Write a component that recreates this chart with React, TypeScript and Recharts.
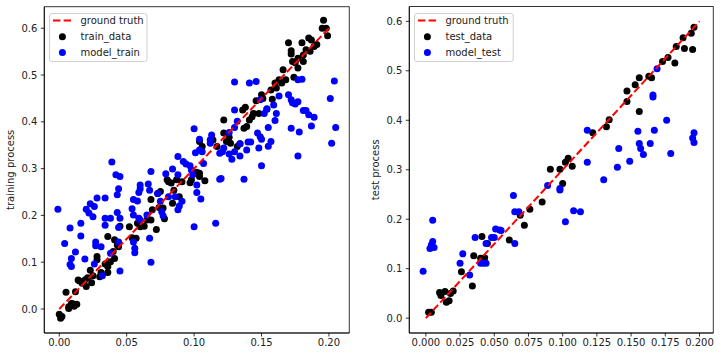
import { ScatterChart, Scatter, XAxis, YAxis, Legend, ReferenceArea } from 'recharts';

// tick labels
const trainXTicks = [0, 0.05, 0.1, 0.15, 0.2];
const testXTicks = [0, 0.025, 0.05, 0.075, 0.1, 0.125, 0.15, 0.175, 0.2];
const yTicks = [0, 0.1, 0.2, 0.3, 0.4, 0.5, 0.6];

// ground truth line end points (x, y)
const groundTruth: [number, number][] = [[0, 0], [0.2, 0.6]];

// left panel, training set
const trainData: [number, number][] = [
  [0.0, -0.011], [0.001, -0.02], [0.002, -0.016], [0.005, 0.036], [0.007, 0.005], [0.007, 0.001],
  [0.009, 0.012], [0.01, 0.011], [0.011, 0.006], [0.013, 0.01], [0.012, 0.037], [0.014, 0.062],
  [0.015, 0.06], [0.017, 0.055], [0.019, 0.062], [0.02, 0.048], [0.021, 0.067], [0.023, 0.083],
  [0.024, 0.056], [0.025, 0.071], [0.028, 0.112], [0.028, 0.105], [0.03, 0.069], [0.031, 0.078],
  [0.034, 0.096], [0.036, 0.091], [0.036, 0.155], [0.036, 0.078], [0.038, 0.101], [0.04, 0.123],
  [0.041, 0.108], [0.041, 0.148], [0.043, 0.137], [0.044, 0.133], [0.045, 0.177], [0.052, 0.176],
  [0.054, 0.152], [0.057, 0.151], [0.058, 0.183], [0.06, 0.176], [0.063, 0.177], [0.065, 0.19],
  [0.068, 0.234], [0.068, 0.19], [0.069, 0.212], [0.072, 0.17], [0.073, 0.247], [0.074, 0.217],
  [0.075, 0.251], [0.077, 0.216], [0.078, 0.193], [0.08, 0.276], [0.081, 0.272], [0.083, 0.269],
  [0.084, 0.226], [0.085, 0.254], [0.087, 0.276], [0.089, 0.24], [0.091, 0.272], [0.097, 0.27],
  [0.098, 0.276], [0.102, 0.292], [0.104, 0.29], [0.104, 0.283], [0.104, 0.358], [0.106, 0.347],
  [0.108, 0.274], [0.112, 0.361], [0.114, 0.361], [0.117, 0.347], [0.122, 0.404], [0.122, 0.376],
  [0.124, 0.358], [0.126, 0.367], [0.127, 0.354], [0.132, 0.347], [0.134, 0.353], [0.136, 0.425],
  [0.138, 0.431], [0.137, 0.386], [0.139, 0.39], [0.141, 0.404], [0.143, 0.411], [0.144, 0.418],
  [0.146, 0.445], [0.148, 0.418], [0.15, 0.458], [0.151, 0.45], [0.154, 0.427], [0.157, 0.468],
  [0.158, 0.448], [0.16, 0.483], [0.161, 0.472], [0.163, 0.49], [0.165, 0.483], [0.166, 0.511],
  [0.168, 0.49], [0.17, 0.569], [0.172, 0.552], [0.172, 0.545], [0.173, 0.529], [0.174, 0.495],
  [0.175, 0.526], [0.177, 0.515], [0.177, 0.536], [0.18, 0.569], [0.181, 0.543], [0.181, 0.529],
  [0.183, 0.554], [0.185, 0.579], [0.186, 0.551], [0.187, 0.575], [0.189, 0.561], [0.191, 0.565],
  [0.195, 0.6], [0.196, 0.617], [0.198, 0.6], [0.199, 0.584],
];

const modelTrain: [number, number][] = [
  [-0.001, 0.213], [0.004, 0.14], [0.008, 0.173], [0.009, 0.108], [0.008, 0.095], [0.009, 0.091],
  [0.012, 0.122], [0.016, 0.183], [0.016, 0.156], [0.019, 0.107], [0.02, 0.213], [0.023, 0.225],
  [0.022, 0.205], [0.025, 0.197], [0.026, 0.219], [0.028, 0.237], [0.027, 0.143], [0.027, 0.135],
  [0.026, 0.096], [0.031, 0.133], [0.032, 0.071], [0.034, 0.194], [0.034, 0.237], [0.034, 0.179],
  [0.038, 0.194], [0.039, 0.314], [0.038, 0.119], [0.042, 0.287], [0.045, 0.283], [0.044, 0.257],
  [0.043, 0.244], [0.043, 0.206], [0.045, 0.194], [0.044, 0.174], [0.044, 0.143], [0.045, 0.081],
  [0.054, 0.214], [0.055, 0.201], [0.055, 0.234], [0.058, 0.231], [0.059, 0.249], [0.06, 0.265],
  [0.06, 0.257], [0.059, 0.194], [0.055, 0.143], [0.056, 0.13], [0.056, 0.12], [0.06, 0.19],
  [0.066, 0.267], [0.067, 0.254], [0.068, 0.294], [0.067, 0.151], [0.068, 0.1], [0.065, 0.201],
  [0.073, 0.247], [0.075, 0.23], [0.076, 0.208], [0.077, 0.199], [0.079, 0.289], [0.081, 0.24],
  [0.084, 0.299], [0.086, 0.24], [0.088, 0.326], [0.088, 0.287], [0.088, 0.212], [0.089, 0.22],
  [0.091, 0.23], [0.092, 0.315], [0.094, 0.31], [0.097, 0.306], [0.098, 0.297], [0.099, 0.287],
  [0.1, 0.385], [0.1, 0.176], [0.101, 0.334], [0.102, 0.249], [0.102, 0.265], [0.104, 0.34],
  [0.104, 0.363], [0.105, 0.235], [0.107, 0.311], [0.106, 0.336], [0.112, 0.361], [0.113, 0.372],
  [0.112, 0.354], [0.116, 0.183], [0.119, 0.277], [0.12, 0.279], [0.119, 0.333], [0.121, 0.336],
  [0.122, 0.344], [0.126, 0.377], [0.126, 0.331], [0.128, 0.32], [0.13, 0.485], [0.13, 0.425],
  [0.13, 0.388], [0.13, 0.336], [0.132, 0.401], [0.134, 0.327], [0.134, 0.353], [0.137, 0.277],
  [0.139, 0.34], [0.14, 0.357], [0.141, 0.483], [0.142, 0.357], [0.146, 0.486], [0.147, 0.376],
  [0.148, 0.344], [0.149, 0.368], [0.15, 0.363], [0.15, 0.306], [0.149, 0.447], [0.154, 0.428],
  [0.152, 0.418], [0.155, 0.348], [0.155, 0.388], [0.157, 0.358], [0.159, 0.436], [0.16, 0.403],
  [0.161, 0.418], [0.163, 0.455], [0.17, 0.458], [0.172, 0.386], [0.172, 0.447], [0.173, 0.441],
  [0.175, 0.438], [0.177, 0.327], [0.177, 0.443], [0.177, 0.49], [0.18, 0.491], [0.178, 0.378],
  [0.181, 0.424], [0.183, 0.424], [0.185, 0.415], [0.187, 0.391], [0.189, 0.41], [0.201, 0.45],
  [0.202, 0.354], [0.204, 0.487], [0.205, 0.388],
];

// right panel, test set
const testData: [number, number][] = [
  [0.002, 0.012], [0.004, 0.012], [0.01, 0.052], [0.011, 0.046], [0.014, 0.054], [0.015, 0.032],
  [0.017, 0.035], [0.018, 0.05], [0.02, 0.055], [0.026, 0.094], [0.034, 0.065], [0.035, 0.126],
  [0.041, 0.165], [0.04, 0.121], [0.043, 0.122], [0.045, 0.151], [0.061, 0.158], [0.069, 0.208],
  [0.072, 0.188], [0.076, 0.22], [0.085, 0.235], [0.091, 0.301], [0.098, 0.301], [0.1, 0.272],
  [0.102, 0.315], [0.104, 0.323], [0.107, 0.307], [0.122, 0.375], [0.132, 0.387], [0.134, 0.401],
  [0.147, 0.459], [0.147, 0.438], [0.153, 0.472], [0.156, 0.486], [0.156, 0.418], [0.163, 0.489],
  [0.165, 0.486], [0.173, 0.519], [0.177, 0.527], [0.182, 0.516], [0.183, 0.549], [0.188, 0.567],
  [0.189, 0.545], [0.194, 0.576], [0.195, 0.543], [0.196, 0.588],
];

const modelTest: [number, number][] = [
  [-0.002, 0.095], [0.003, 0.141], [0.004, 0.148], [0.005, 0.198], [0.005, 0.155], [0.006, 0.143],
  [0.025, 0.111], [0.027, 0.13], [0.032, 0.087], [0.036, 0.163], [0.04, 0.111], [0.042, 0.111],
  [0.044, 0.111], [0.044, 0.151], [0.048, 0.163], [0.05, 0.163], [0.051, 0.18], [0.054, 0.178],
  [0.055, 0.177], [0.064, 0.248], [0.065, 0.215], [0.068, 0.215], [0.065, 0.151], [0.089, 0.268],
  [0.098, 0.259], [0.098, 0.262], [0.102, 0.195], [0.108, 0.217], [0.113, 0.215], [0.118, 0.38],
  [0.118, 0.315], [0.13, 0.28], [0.14, 0.305], [0.141, 0.343], [0.149, 0.317], [0.155, 0.378],
  [0.156, 0.353], [0.157, 0.343], [0.159, 0.331], [0.164, 0.353], [0.166, 0.451], [0.166, 0.447],
  [0.167, 0.38], [0.169, 0.504], [0.176, 0.4], [0.179, 0.333], [0.195, 0.364], [0.196, 0.375],
  [0.196, 0.355],
];

const FONT = '"DejaVu Sans", sans-serif';
const TEXT = '#222';
const toPoints = (rows: [number, number][]) => rows.map(([x, y]) => ({ x, y }));

const dot = (fill: string) => (p: any) => <circle cx={p.cx} cy={p.cy} r={3.5} fill={fill} />;

function LegendBox({ width, dataName, modelName }: { width: number; dataName: string; modelName: string }) {
  return (
    <svg width={width} height={50} style={{ display: 'block', fontFamily: FONT }}>
      <rect x={0.5} y={0.5} width={width - 1} height={48} rx={2.5} fill="#fff" fillOpacity={0.8} stroke="#d0d0d0" />
      <line x1={4} x2={22.4} y1={7.6} y2={7.6} stroke="red" strokeWidth={2} strokeDasharray="7.4 3.2" />
      <circle cx={13.4} cy={23.8} r={3.5} fill="#000" />
      <circle cx={13.4} cy={39.6} r={3.5} fill="#0000ff" />
      <text x={31.5} y={7.6} dominantBaseline="central" fontSize={10} fill={TEXT}>ground truth</text>
      <text x={31.5} y={23.8} dominantBaseline="central" fontSize={10} fill={TEXT}>{dataName}</text>
      <text x={31.5} y={39.6} dominantBaseline="central" fontSize={10} fill={TEXT}>{modelName}</text>
    </svg>
  );
}

interface PanelProps {
  width: number;
  yAxisWidth: number;
  marginTop: number;
  marginRight: number;
  xDomain: [number, number];
  yDomain: [number, number];
  xTicks: number[];
  xDecimals: number;
  yLabel: string;
  yLabelX: number;
  data: [number, number][];
  model: [number, number][];
  dataName: string;
  modelName: string;
  legendWidth: number;
}

function Panel(p: PanelProps) {
  const axisLine = { stroke: '#000', strokeWidth: 0.8 };
  return (
    <ScatterChart
      width={p.width}
      height={357}
      margin={{ top: p.marginTop, right: p.marginRight, bottom: 0, left: 0 }}
      style={{ fontFamily: FONT }}
    >
      <XAxis
        type="number"
        dataKey="x"
        domain={p.xDomain}
        allowDataOverflow
        ticks={p.xTicks}
        interval={0}
        tickFormatter={(v: number) => v.toFixed(p.xDecimals)}
        tick={{ fontSize: 10, fill: TEXT }}
        tickSize={3.5}
        tickMargin={2.5}
        tickLine={{ stroke: '#000', strokeWidth: 0.8 }}
        axisLine={axisLine}
        height={24}
      />
      <YAxis
        type="number"
        dataKey="y"
        domain={p.yDomain}
        allowDataOverflow
        ticks={yTicks}
        interval={0}
        tickFormatter={(v: number) => v.toFixed(1)}
        tick={{ fontSize: 10, fill: TEXT }}
        tickSize={3.5}
        tickMargin={3.5}
        tickLine={{ stroke: '#000', strokeWidth: 0.8 }}
        axisLine={axisLine}
        width={p.yAxisWidth}
        label={{
          value: p.yLabel,
          content: ({ viewBox }: any) => {
            const cy = viewBox.y + viewBox.height / 2;
            return (
              <text
                x={p.yLabelX}
                y={cy}
                transform={`rotate(-90 ${p.yLabelX} ${cy})`}
                textAnchor="middle"
                dominantBaseline="central"
                fontSize={10}
                fill={TEXT}
              >
                {p.yLabel}
              </text>
            );
          },
        }}
      />
      {/* axes frame (matplotlib spines) */}
      <ReferenceArea
        x1={p.xDomain[0]}
        x2={p.xDomain[1]}
        y1={p.yDomain[0]}
        y2={p.yDomain[1]}
        fill="none"
        stroke="#000"
        strokeWidth={0.8}
        ifOverflow="visible"
      />
      <Legend
        layout="vertical"
        align="center"
        verticalAlign="middle"
        wrapperStyle={{ top: 12.5, left: p.yAxisWidth + 5, width: p.legendWidth, height: 50 }}
        content={() => <LegendBox width={p.legendWidth} dataName={p.dataName} modelName={p.modelName} />}
      />
      <Scatter name={p.dataName} data={toPoints(p.data)} shape={dot('#000')} isAnimationActive={false} />
      <Scatter name={p.modelName} data={toPoints(p.model)} shape={dot('#0000ff')} isAnimationActive={false} />
      <Scatter
        name="ground truth"
        data={toPoints(groundTruth)}
        line={{ stroke: 'red', strokeWidth: 2, strokeDasharray: '7.4 3.2' }}
        shape={() => <g />}
        isAnimationActive={false}
      />
    </ScatterChart>
  );
}

export default function App() {
  return (
    <div style={{ position: 'absolute', left: 0, top: 0, width: 721, height: 357, background: '#fff', fontFamily: FONT }}>
      <div style={{ position: 'absolute', left: 0, top: 0 }}>
        <Panel
          width={360}
          yAxisWidth={44.3}
          marginTop={6.7}
          marginRight={10.7}
          xDomain={[-0.0111, 0.2151]}
          yDomain={[-0.0513, 0.646]}
          xTicks={trainXTicks}
          xDecimals={2}
          yLabel="training process"
          yLabelX={11}
          data={trainData}
          model={modelTrain}
          dataName="train_data"
          modelName="model_train"
          legendWidth={98.5}
        />
      </div>
      <div style={{ position: 'absolute', left: 360, top: 0 }}>
        <Panel
          width={361}
          yAxisWidth={49.3}
          marginTop={6.5}
          marginRight={7.7}
          xDomain={[-0.0121, 0.2101]}
          yDomain={[-0.03, 0.63]}
          xTicks={testXTicks}
          xDecimals={3}
          yLabel="test process"
          yLabelX={15.7}
          data={testData}
          model={modelTest}
          dataName="test_data"
          modelName="model_test"
          legendWidth={99.7}
        />
      </div>
    </div>
  );
}
